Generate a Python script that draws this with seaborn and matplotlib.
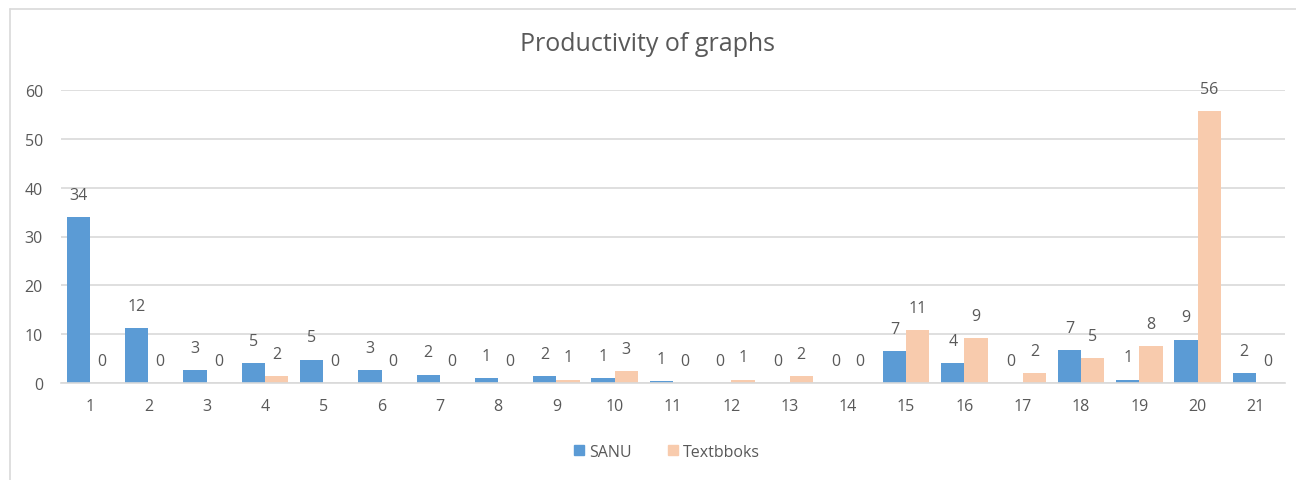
import pandas as pd
import seaborn as sns
import matplotlib.pyplot as plt
from matplotlib.lines import Line2D

categories = [str(i) for i in range(1, 22)]
sanu = [34, 11.3, 2.7, 4.1, 4.8, 2.7, 1.7, 1.0, 1.4, 1.0, 0.35, 0, 0, 0, 6.5, 4.1, 0, 6.8, 0.7, 8.9, 2.0]
textbooks = [0, 0, 0, 1.4, 0, 0, 0, 0, 0.7, 2.4, 0, 0.7, 1.4, 0, 10.9, 9.2, 2.0, 5.1, 7.5, 55.7, 0]
sanu_labels = [34, 12, 3, 5, 5, 3, 2, 1, 2, 1, 1, 0, 0, 0, 7, 4, 0, 7, 1, 9, 2]
text_labels = [0, 0, 0, 2, 0, 0, 0, 0, 1, 3, 0, 1, 2, 0, 11, 9, 2, 5, 8, 56, 0]
series = ["SANU", "Textbboks"]
colors = ["#5B9BD5", "#F8CBAD"]

sns.set_theme(style="white")
plt.rcParams['font.family'] = ['Open Sans', 'DejaVu Sans']
txt = "#595959"

df = pd.DataFrame({
    "cat": categories * 2,
    "value": sanu + textbooks,
    "series": [series[0]] * 21 + [series[1]] * 21,
})

fig = plt.figure(figsize=(12.96, 4.81), dpi=100)
ax = fig.add_axes([61 / 1296, 1 - 384 / 481, 1224 / 1296, 293 / 481])
sns.barplot(data=df, x="cat", y="value", hue="series", palette=colors,
            width=0.8, saturation=1, linewidth=0, ax=ax, legend=False)

ax.set_xlim(-0.5, 20.5)
ax.set_ylim(0, 60)
ax.set_yticks(range(0, 61, 10))
ax.yaxis.grid(True, color="#d9d9d9", linewidth=1.2)
ax.set_axisbelow(True)
for s in ["top", "right", "left"]:
    ax.spines[s].set_visible(False)
ax.spines["bottom"].set_color("#d9d9d9")
ax.spines["bottom"].set_linewidth(1.2)
ax.tick_params(axis="both", length=0, labelsize=11.5, labelcolor=txt)
ax.tick_params(axis="y", pad=13)
ax.tick_params(axis="x", pad=11)
ax.set_xlabel("")
ax.set_ylabel("")

# data labels above bars
for cont, labels in zip(ax.containers, [sanu_labels, text_labels]):
    for bar, lab in zip(cont, labels):
        x = bar.get_x() + bar.get_width() / 2
        ax.annotate(str(lab), (x, bar.get_height()), xytext=(0, 16),
                    textcoords="offset points", ha="center", va="center",
                    fontsize=11.5, color=txt, annotation_clip=False)

fig.text(0.5, 1 - 45 / 481, "Productivity of graphs", ha="center", va="center",
         fontsize=18, color=txt)

handles = [Line2D([], [], marker="s", linestyle="", markersize=7,
                  markerfacecolor=c, markeredgecolor=c) for c in colors]
fig.legend(handles, series, loc="center", bbox_to_anchor=(0.514, 1 - 453 / 481),
           ncol=2, frameon=False, fontsize=11.5, labelcolor=txt,
           handlelength=0.8, handletextpad=0.2, columnspacing=2.2)

# chart border
fig.add_artist(Line2D([10 / 1296, 10 / 1296], [0, 1 - 10 / 481], color="#d9d9d9", lw=1.2))
fig.add_artist(Line2D([10 / 1296, 1], [1 - 10 / 481, 1 - 10 / 481], color="#d9d9d9", lw=1.2))

plt.savefig("out.png", dpi=100)
